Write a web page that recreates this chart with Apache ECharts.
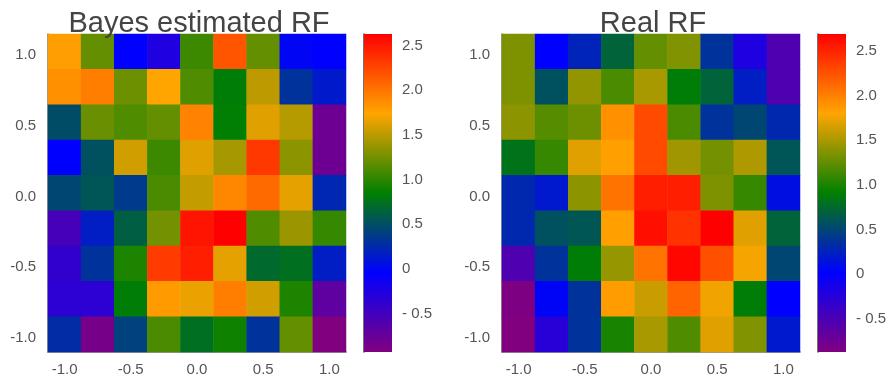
<!DOCTYPE html>
<html>
<head>
<meta charset="utf-8">
<script src="https://cdn.jsdelivr.net/npm/echarts@6/dist/echarts.min.js"></script>
<style>
  html, body { margin: 0; padding: 0; background: #fff; }
  #chart { width: 895px; height: 381px; }
</style>
</head>
<body>
<div id="chart"></div>
<script>
// Grid coordinates (same for x and y), bottom-to-top / left-to-right
const coords = ['-1.0', '-0.75', '-0.5', '-0.25', '0.0', '0.25', '0.5', '0.75', '1.0'];

// Colour-bar ticks
const cbarTickValues = [-0.5, 0, 0.5, 1.0, 1.5, 2.0, 2.5];
const cbarTickLabels = ['- 0.5', '0', '0.5', '1.0', '1.5', '2.0', '2.5'];

// Colour map: purple -> blue -> green -> orange -> red
const palette = ['#800080', '#0000ff', '#008000', '#ffa500', '#ff0000'];

const titles = ['Bayes estimated RF', 'Real RF'];

// Estimated receptive field, rows listed from y = 1.0 (top) down to y = -1.0
const estimatedRF = [
  [1.78, 1.20, -0.04, -0.25, 1.06, 2.17, 1.20, 0.00, -0.04],
  [1.85, 1.95, 1.23, 1.74, 1.13, 0.83, 1.51, 0.31, 0.14],
  [0.49, 1.22, 1.13, 1.20, 1.93, 0.84, 1.63, 1.48, -0.80],
  [-0.04, 0.52, 1.58, 1.06, 1.63, 1.43, 2.33, 1.34, -0.80],
  [0.45, 0.55, 0.36, 1.11, 1.53, 1.90, 2.06, 1.65, 0.23],
  [-0.53, 0.17, 0.62, 1.25, 2.52, 2.63, 1.13, 1.39, 1.04],
  [-0.39, 0.31, 0.95, 2.31, 2.47, 1.65, 0.69, 0.74, 0.17],
  [-0.35, -0.35, 0.83, 1.80, 1.67, 1.95, 1.58, 0.95, -0.70],
  [0.27, -0.87, 0.41, 1.11, 0.73, 0.90, 0.31, 1.20, -0.93]
];

// True receptive field, same layout
const realRF = [
  [1.35, 0.02, 0.26, 0.71, 1.26, 1.36, 0.37, -0.19, -0.53],
  [1.35, 0.58, 1.42, 1.17, 1.50, 0.89, 0.71, 0.23, -0.53],
  [1.40, 1.21, 1.29, 1.91, 2.29, 1.17, 0.37, 0.51, 0.30],
  [0.82, 1.10, 1.69, 1.83, 2.29, 1.47, 1.31, 1.52, 0.61],
  [0.30, 0.19, 1.40, 2.07, 2.53, 2.53, 1.35, 1.10, 0.12],
  [0.30, 0.58, 0.62, 1.83, 2.61, 2.42, 2.69, 1.69, 0.71],
  [-0.53, 0.37, 0.89, 1.43, 2.07, 2.66, 2.26, 1.77, 0.51],
  [-0.85, 0.05, 0.37, 1.85, 1.61, 2.15, 1.75, 0.89, 0.02],
  [-0.87, -0.26, 0.37, 0.99, 1.50, 1.19, 1.69, 1.36, 0.19]
];

const matrices = [estimatedRF, realRF];

function toCells(rows) {
  const out = [];
  const n = rows.length;
  rows.forEach((row, r) => {
    row.forEach((v, c) => out.push([c, n - 1 - r, v]));
  });
  return out;
}

function range(rows) {
  const flat = rows.flat();
  return [Math.min(...flat), Math.max(...flat)];
}

const labelFont = { fontFamily: 'Liberation Sans, Arial, sans-serif', fontSize: 15, color: '#555' };

// Panel placement (heatmap grid + colour-bar grid)
const panels = [
  { left: 48, cbarLeft: 364 },
  { left: 502, cbarLeft: 818 }
];
const plotTop = 34, plotHeight = 318, plotWidth = 298, cbarWidth = 28;

const grid = [], xAxis = [], yAxis = [], series = [], visualMap = [], title = [];

panels.forEach((p, i) => {
  const [lo, hi] = range(matrices[i]);
  const hmGrid = grid.length;
  grid.push({ left: p.left, top: plotTop, width: plotWidth, height: plotHeight });
  const cbGrid = grid.length;
  grid.push({ left: p.cbarLeft, top: plotTop, width: cbarWidth, height: plotHeight });

  title.push({
    text: titles[i],
    left: p.left + plotWidth / 2 - 3,
    top: 4,
    textAlign: 'center',
    textStyle: { fontFamily: 'Liberation Sans, Arial, sans-serif', fontSize: 29, fontWeight: 'normal', color: '#444' }
  });

  // heatmap axes
  xAxis.push({
    type: 'category', gridIndex: hmGrid, data: coords,
    axisLine: { lineStyle: { color: '#777', width: 1.5 } },
    axisTick: { show: false },
    axisLabel: Object.assign({ interval: 1, margin: 10 }, labelFont),
    splitLine: { show: false }
  });
  yAxis.push({
    type: 'category', gridIndex: hmGrid, data: coords,
    axisLine: { lineStyle: { color: '#777', width: 1.5 } },
    axisTick: { show: false },
    axisLabel: Object.assign({ interval: 1, margin: 12, verticalAlign: 'top', lineHeight: 7 }, labelFont),
    splitLine: { show: false }
  });

  // colour-bar axes
  xAxis.push({ type: 'value', gridIndex: cbGrid, min: 0, max: 1, show: false });
  yAxis.push({
    type: 'value', gridIndex: cbGrid, min: lo, max: hi, position: 'right',
    axisLine: { show: true, lineStyle: { color: '#444', width: 1.5 } },
    axisTick: { show: true, customValues: cbarTickValues, length: 6, lineStyle: { color: '#666', width: 1 } },
    axisLabel: Object.assign({
      customValues: cbarTickValues, margin: 10,
      formatter: v => {
        const k = cbarTickValues.findIndex(t => Math.abs(t - v) < 1e-9);
        return k >= 0 ? cbarTickLabels[k] : '';
      }
    }, labelFont),
    splitLine: { show: false }
  });

  visualMap.push({
    type: 'continuous', show: false, min: lo, max: hi,
    seriesIndex: series.length, dimension: 2,
    inRange: { color: palette }
  });

  series.push({
    type: 'heatmap', xAxisIndex: hmGrid, yAxisIndex: hmGrid,
    data: toCells(matrices[i]),
    itemStyle: { borderWidth: 0 },
    emphasis: { disabled: true },
    progressive: 0
  });

  // colour bar drawn along the value axis
  series.push({
    type: 'custom', xAxisIndex: cbGrid, yAxisIndex: cbGrid,
    data: [[0, lo, hi]],
    silent: true,
    renderItem: (params, api) => {
      const p0 = api.coord([0, api.value(2)]);
      const p1 = api.coord([1, api.value(1)]);
      return {
        type: 'rect',
        shape: { x: p0[0], y: p0[1], width: p1[0] - p0[0], height: p1[1] - p0[1] },
        style: {
          fill: new echarts.graphic.LinearGradient(0, 1, 0, 0,
            palette.map((c, k) => ({ offset: k / (palette.length - 1), color: c })))
        }
      };
    }
  });
});

const chart = echarts.init(document.getElementById('chart'), null, { renderer: 'canvas' });
chart.setOption({
  animation: false,
  backgroundColor: '#fff',
  title, grid, xAxis, yAxis, visualMap, series
});
</script>
</body>
</html>
